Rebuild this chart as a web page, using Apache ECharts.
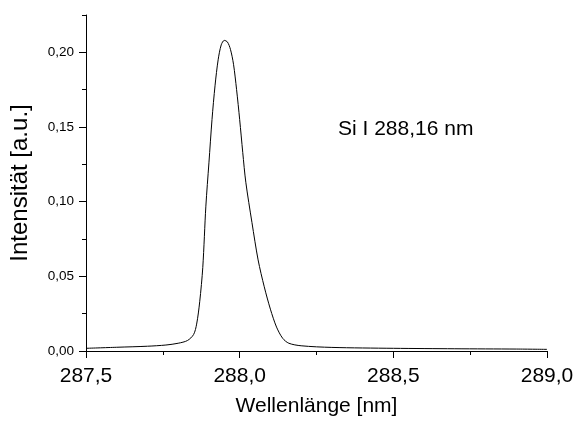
<!DOCTYPE html>
<html><head><meta charset="utf-8">
<script src="https://cdn.jsdelivr.net/npm/echarts@6/dist/echarts.min.js"></script>
<style>html,body{margin:0;padding:0;background:#fff}#c{width:580px;height:424px}</style>
</head><body><div id="c"></div>
<script>
var wavelength = [287.50, 287.60, 287.70, 287.76, 287.80, 287.83, 287.85, 287.86, 287.87, 287.88, 287.89, 287.90, 287.91, 287.92, 287.93, 287.94, 287.95, 287.96, 287.97, 287.98, 287.99, 288.00, 288.01, 288.02, 288.04, 288.06, 288.08, 288.10, 288.12, 288.14, 288.16, 288.20, 288.30, 288.50, 288.70, 288.90, 289.00];
var intensity = [0.0018, 0.0025, 0.0032, 0.0040, 0.0052, 0.0070, 0.0110, 0.0180, 0.0330, 0.0560, 0.0970, 0.1260, 0.1550, 0.1780, 0.1950, 0.2050, 0.2080, 0.2070, 0.2020, 0.1920, 0.1750, 0.1550, 0.1330, 0.1130, 0.0860, 0.0610, 0.0430, 0.0280, 0.0160, 0.0085, 0.0052, 0.0035, 0.0024, 0.0018, 0.0015, 0.0013, 0.0011];
var yMajorTicks = [0, 0.05, 0.10, 0.15, 0.20];
var xTicks = [287.5, 288.0, 288.5, 289.0];
var annotation = 'Si I 288,16 nm';
var xName = 'Wellenlänge [nm]';
var yName = 'Intensität [a.u.]';

var font = 'Liberation Sans, Arial, sans-serif';
var chart = echarts.init(document.getElementById('c'));
var data = wavelength.map(function (x, i) { return [x, intensity[i]]; });
chart.setOption({
  animation: false,
  grid: {left: 83, right: 33, top: 15, bottom: 73, containLabel: false},
  xAxis: {
    type: 'value', min: 287.5, max: 289.0, interval: 0.5,
    name: xName, nameLocation: 'middle', nameGap: 45,
    nameTextStyle: {fontFamily: font, fontSize: 21, color: '#000', verticalAlign: 'top', lineHeight: 21},
    axisLine: {lineStyle: {color: '#000', width: 1}},
    axisTick: {show: true, length: 7, lineStyle: {color: '#000'}},
    minorTick: {show: true, splitNumber: 2, length: 4, lineStyle: {color: '#000'}},
    axisLabel: {fontFamily: font, fontSize: 21, color: '#000', margin: 15,
      customValues: xTicks,
      formatter: function (v) { return v.toFixed(1).replace('.', ','); }},
    splitLine: {show: false}
  },
  yAxis: [{
    type: 'value', min: 0, max: 0.225, interval: 0.025,
    name: yName, nameLocation: 'middle', nameGap: 54,
    nameTextStyle: {fontFamily: font, fontSize: 24, color: '#000'},
    axisLine: {lineStyle: {color: '#000', width: 1}},
    axisTick: {show: true, length: 4, lineStyle: {color: '#000'}},
    axisLabel: {fontFamily: font, fontSize: 13.5, color: '#000', margin: 12,
      formatter: function (v) {
        var k = Math.round(v / 0.025);
        return k % 2 === 0 ? v.toFixed(2).replace('.', ',') : '';
      }},
    splitLine: {show: false}
  }, {
    type: 'value', min: 0, max: 0.225, position: 'left',
    axisLine: {show: false},
    axisTick: {show: true, length: 7, customValues: yMajorTicks, lineStyle: {color: '#000'}},
    axisLabel: {show: false},
    splitLine: {show: false}
  }],
  series: [{
    type: 'line', data: data, yAxisIndex: 0, showSymbol: false, smooth: 0.3,
    lineStyle: {color: '#000', width: 1}
  }],
  graphic: [{
    type: 'text', left: 338, top: 119,
    style: {text: annotation, font: '21px ' + font, fill: '#000'}
  }]
});
</script></body></html>
